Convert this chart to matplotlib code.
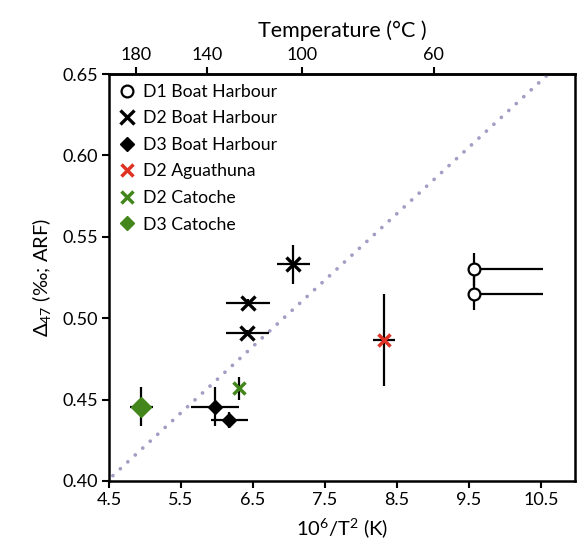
import numpy as np
import matplotlib
matplotlib.use("Agg")
import matplotlib.pyplot as plt

plt.rcParams['font.family'] = ['Lato', 'DejaVu Sans']
plt.rcParams['mathtext.fontset'] = 'custom'
plt.rcParams['mathtext.rm'] = 'Lato'
plt.rcParams['mathtext.it'] = 'Lato:italic'

# data (x = 10^6/T^2, y = D47)
d1_bh_x = [9.57, 9.57]
d1_bh_y = [0.530, 0.515]
d1_bh_yerr = [0.010, 0.010]
d1_bh_xerr_hi = [0.95, 0.95]

d2_bh_x = [6.42, 6.43, 7.06]
d2_bh_y = [0.491, 0.5095, 0.533]
d2_bh_xerr = [0.30, 0.30, 0.23]
d2_bh_yerr = [0.002, 0.002, 0.012]

d3_bh_x = [5.97, 6.17]
d3_bh_y = [0.4455, 0.4375]
d3_bh_xerr = [0.33, 0.26]
d3_bh_yerr = [0.012, 0.005]

d2_ag_x = [8.32]
d2_ag_y = [0.4866]
d2_ag_xerr = [0.155]
d2_ag_yerr = [0.028]

d2_ca_x = [6.30]
d2_ca_y = [0.457]
d2_ca_yerr = [0.007]

d3_ca_x = [4.95]
d3_ca_y = [0.4455]
d3_ca_xerr = [0.16]
d3_ca_yerr = [0.012]

line_slope = 0.0408
line_icpt = 0.2175

temp_ticks = [180, 140, 100, 60]

red = '#dd3224'
green = '#43861c'

fig = plt.figure(figsize=(5.77, 5.56), dpi=100)
ax = fig.add_axes([0.1889, 0.1349, 0.8076, 0.732])

# calibration line
lx = np.array([4.45, 10.7])
ax.plot(lx, line_slope * lx + line_icpt, color='#a39cc3', lw=2.7,
        linestyle=(0, (0.01, 2.7)), dash_capstyle='round', zorder=1)

eb = dict(fmt='none', ecolor='black', elinewidth=1.6, capsize=0, zorder=2)
ax.errorbar(d1_bh_x, d1_bh_y, yerr=d1_bh_yerr,
            xerr=[np.zeros(len(d1_bh_x)), d1_bh_xerr_hi], **eb)
ax.errorbar(d2_bh_x, d2_bh_y, xerr=d2_bh_xerr, yerr=d2_bh_yerr, **eb)
ax.errorbar(d3_bh_x, d3_bh_y, xerr=d3_bh_xerr, yerr=d3_bh_yerr, **eb)
ax.errorbar(d2_ag_x, d2_ag_y, xerr=d2_ag_xerr, yerr=d2_ag_yerr, **eb)
ax.errorbar(d2_ca_x, d2_ca_y, yerr=d2_ca_yerr, **eb)
ax.errorbar(d3_ca_x, d3_ca_y, xerr=d3_ca_xerr, yerr=d3_ca_yerr, **eb)

ax.plot(d1_bh_x, d1_bh_y, 'o', ms=8.5, mfc='white', mec='black', mew=1.6,
        ls='none', label='D1 Boat Harbour', zorder=3)
ax.plot(d2_bh_x, d2_bh_y, 'x', ms=9.5, color='black', mew=2.4,
        ls='none', label='D2 Boat Harbour', zorder=3)
ax.plot(d3_bh_x, d3_bh_y, 'D', ms=7.5, color='black',
        ls='none', label='D3 Boat Harbour', zorder=3)
ax.plot(d2_ag_x, d2_ag_y, 'x', ms=8.5, color=red, mew=2.5,
        ls='none', label='D2 Aguathuna', zorder=3)
ax.plot(d2_ca_x, d2_ca_y, 'x', ms=8.5, color=green, mew=2.5,
        ls='none', label='D2 Catoche', zorder=3)
ax.plot(d3_ca_x, d3_ca_y, 'D', ms=10, color=green,
        ls='none', label='D3 Catoche', zorder=3)

ax.set_xlim(4.5, 10.97)
ax.set_ylim(0.40, 0.65)
ax.set_xticks(np.arange(4.5, 10.6, 1.0))
ax.set_xticklabels(['4.5', '5.5', '6.5', '7.5', '8.5', '9.5', '10.5'])
ax.set_yticks(np.arange(0.40, 0.651, 0.05))
ax.set_yticklabels(['%.2f' % v for v in np.arange(0.40, 0.651, 0.05)])
ax.tick_params(direction='out', length=5, width=1.5, labelsize=13, pad=3)
for s in ax.spines.values():
    s.set_linewidth(1.8)

ax.set_xlabel('10$^6$/T$^2$ (K)', fontsize=14.5, labelpad=6)
ax.set_ylabel(r'$\Delta_{47}$ (‰; ARF)', fontsize=14.5, labelpad=7)

# top temperature axis
def t_to_x(t):
    t = np.asarray(t, dtype=float)
    return 1e6 / (t + 273.15) ** 2

def x_to_t(x):
    x = np.clip(np.asarray(x, dtype=float), 1e-6, None)
    return np.sqrt(1e6 / x) - 273.15

top = ax.secondary_xaxis('top', functions=(x_to_t, t_to_x))
top.set_xticks(temp_ticks)
top.tick_params(direction='out', length=5, width=1.5, labelsize=13, pad=3)
top.spines['top'].set_linewidth(1.8)
top.set_xlabel('Temperature (°C )', fontsize=15.5, labelpad=7)

leg = ax.legend(loc='upper left', frameon=False, fontsize=12.7,
                handlelength=0.9, handletextpad=0.45, labelspacing=0.6,
                borderaxespad=0.3, borderpad=0.25)
# legend diamonds all the same size
leg.legend_handles[5].set_markersize(7.5)

fig.savefig('out.png', dpi=100)
